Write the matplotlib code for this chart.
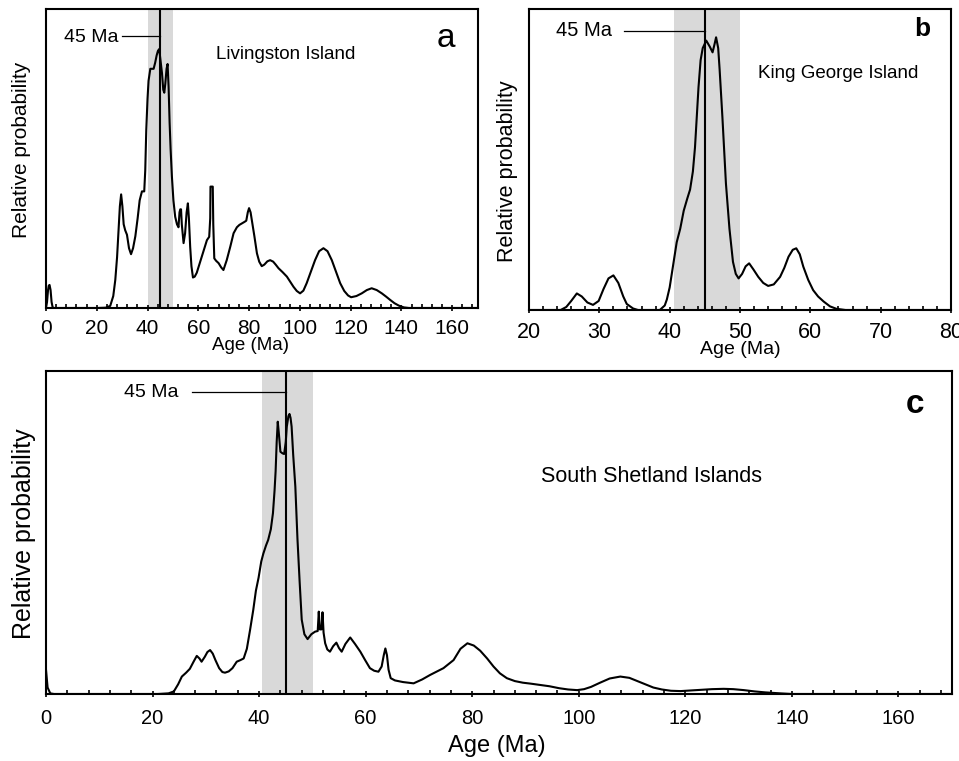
import matplotlib
matplotlib.use('Agg')
import numpy as np
import matplotlib.pyplot as plt
from matplotlib.ticker import MultipleLocator

plt.rcParams['font.family'] = ['Liberation Sans', 'DejaVu Sans']

# ---- data (age in Ma, relative probability 0..1 of panel height) ----
age_a = [0.0, 0.4, 0.8, 1.1, 1.4, 1.8, 2.2, 2.6, 3.0, 20.0, 23.5, 25.3, 26.5, 27.3, 28.0,
         28.6, 29.1, 29.6, 30.1, 30.6, 31.2, 31.9, 32.7, 33.5, 34.3, 35.2, 36.1, 36.9, 37.8,
         38.7, 39.1, 39.5, 40.0, 40.4, 41.1, 41.8, 42.4, 43.0, 43.6, 44.1, 44.6, 45.1, 45.7,
         46.2, 46.6, 47.0, 47.5, 47.9, 48.3, 48.7, 49.1, 49.6, 50.2, 50.9, 51.6, 52.2, 52.6,
         52.9, 53.2, 53.5, 54.2, 54.8, 55.4, 55.9, 56.3, 56.8, 57.3, 57.9, 58.6, 59.4, 60.4,
         61.4, 62.4, 63.4, 64.3, 64.7, 64.8, 65.7, 65.9, 66.3, 67.0, 68.0, 69.0, 69.9, 71.2,
         72.6, 73.9, 75.2, 76.2, 77.2, 78.2, 78.9, 79.5, 80.0, 80.6, 81.1, 82.1, 83.1, 84.0,
         85.0, 86.0, 87.2, 88.3, 89.5, 90.5, 91.6, 93.2, 94.9, 96.2, 97.5, 98.8, 100.1, 101.4,
         102.7, 104.3, 106.0, 107.6, 109.3, 110.9, 112.6, 114.3, 115.9, 117.5, 119.0, 120.2,
         122.3, 124.4, 126.4, 128.3, 130.3, 132.3, 134.0, 135.6, 137.3, 139.0, 141.0, 143.0,
         170.0]
prob_a = [0.0, 0.02, 0.06, 0.075, 0.077, 0.06, 0.02, 0.003, 0.0, 0.0, 0.001, 0.007, 0.04,
          0.094, 0.17, 0.26, 0.34, 0.38, 0.34, 0.28, 0.26, 0.245, 0.20, 0.18, 0.20, 0.24, 0.30,
          0.36, 0.39, 0.39, 0.46, 0.595, 0.70, 0.76, 0.80, 0.80, 0.80, 0.82, 0.845, 0.86, 0.866,
          0.83, 0.785, 0.73, 0.72, 0.75, 0.80, 0.816, 0.74, 0.62, 0.53, 0.44, 0.36, 0.305, 0.28,
          0.27, 0.32, 0.33, 0.33, 0.28, 0.217, 0.25, 0.32, 0.35, 0.30, 0.205, 0.14, 0.102,
          0.105, 0.118, 0.145, 0.172, 0.20, 0.227, 0.238, 0.30, 0.406, 0.406, 0.28, 0.166,
          0.158, 0.15, 0.136, 0.127, 0.16, 0.205, 0.25, 0.27, 0.278, 0.283, 0.288, 0.292, 0.32,
          0.334, 0.32, 0.294, 0.24, 0.183, 0.155, 0.14, 0.145, 0.156, 0.16, 0.155, 0.145,
          0.133, 0.12, 0.105, 0.088, 0.071, 0.057, 0.049, 0.058, 0.083, 0.12, 0.16, 0.19, 0.20,
          0.19, 0.16, 0.12, 0.083, 0.057, 0.042, 0.036, 0.04, 0.049, 0.06, 0.066, 0.06, 0.049,
          0.038, 0.027, 0.016, 0.008, 0.002, 0.0, 0.0]

age_b = [20.0, 24.5, 25.3, 26.0, 26.8, 27.5, 28.3, 29.1, 29.9, 30.6, 31.3, 32.0, 32.7, 33.4,
         33.9, 34.8, 35.5, 38.6, 39.3, 39.6, 40.0, 40.3, 40.7, 41.0, 41.5, 42.0, 42.5, 42.9,
         43.3, 43.6, 43.9, 44.1, 44.4, 44.7, 45.2, 45.7, 46.1, 46.4, 46.6, 46.9, 47.1, 47.5,
         48.0, 48.5, 49.0, 49.4, 49.8, 50.3, 50.8, 51.3, 51.9, 52.6, 53.3, 54.0, 54.8, 55.7,
         56.3, 56.9, 57.5, 58.0, 58.5, 59.0, 59.7, 60.4, 61.1, 61.9, 62.8, 63.7, 65.0, 80.0]
prob_b = [0.0, 0.0, 0.01, 0.03, 0.055, 0.045, 0.025, 0.017, 0.03, 0.07, 0.105, 0.115, 0.09,
          0.045, 0.02, 0.005, 0.0, 0.0, 0.015, 0.035, 0.075, 0.12, 0.18, 0.225, 0.27, 0.33,
          0.37, 0.40, 0.46, 0.54, 0.66, 0.74, 0.83, 0.87, 0.895, 0.875, 0.856, 0.885, 0.906,
          0.87, 0.80, 0.64, 0.42, 0.27, 0.16, 0.12, 0.105, 0.12, 0.145, 0.155, 0.135, 0.11,
          0.09, 0.08, 0.085, 0.11, 0.14, 0.177, 0.20, 0.205, 0.185, 0.144, 0.10, 0.066, 0.045,
          0.028, 0.012, 0.004, 0.0, 0.0]

age_c = [0.0, 0.3, 0.8, 1.5, 21.0, 23.0, 24.0, 24.8, 25.5, 26.3, 27.0, 27.7, 28.3, 28.8, 29.2,
         29.8, 30.3, 30.8, 31.3, 31.8, 32.5, 33.1, 33.6, 34.3, 35.0, 35.8, 36.5, 37.1, 37.7,
         38.3, 38.9, 39.4, 39.9, 40.4, 40.8, 41.3, 41.7, 42.2, 42.6, 42.9, 43.1, 43.3, 43.5,
         43.7, 44.0, 44.4, 44.7, 45.0, 45.2, 45.5, 45.7, 45.9, 46.1, 46.4, 46.8, 47.2, 47.6,
         48.0, 48.5, 49.1, 49.8, 50.5, 51.0, 51.2, 51.4, 51.7, 51.9, 52.1, 52.4, 52.8, 53.3,
         53.9, 54.5, 55.0, 55.5, 56.2, 57.1, 58.0, 59.0, 59.9, 60.8, 61.6, 62.4, 63.0, 63.4,
         63.7, 64.0, 64.3, 64.7, 65.5, 67.0, 69.0, 70.6, 72.1, 73.4, 74.6, 75.6, 76.5, 77.8,
         79.1, 80.3, 81.5, 82.8, 84.0, 85.2, 86.5, 88.0, 89.5, 91.0, 92.8, 94.5, 96.3, 98.0,
         99.7, 101.0, 102.3, 104.0, 105.8, 107.8, 109.5, 111.0, 112.5, 114.0, 115.6, 117.3,
         119.1, 121.0, 123.0, 125.0, 127.2, 129.0, 131.0, 133.0, 135.0, 137.8, 140.0, 170.0]
prob_c = [0.075, 0.02, 0.002, 0.0, 0.0, 0.002, 0.008, 0.03, 0.054, 0.066, 0.078, 0.10, 0.118,
          0.11, 0.10, 0.115, 0.13, 0.136, 0.125, 0.105, 0.08, 0.068, 0.066, 0.07, 0.08, 0.10,
          0.105, 0.11, 0.14, 0.198, 0.26, 0.32, 0.36, 0.41, 0.435, 0.46, 0.477, 0.51, 0.56,
          0.63, 0.69, 0.78, 0.843, 0.808, 0.75, 0.745, 0.743, 0.78, 0.828, 0.86, 0.867, 0.855,
          0.828, 0.74, 0.642, 0.48, 0.35, 0.23, 0.185, 0.17, 0.185, 0.193, 0.195, 0.255, 0.2,
          0.2, 0.253, 0.19, 0.157, 0.138, 0.131, 0.148, 0.159, 0.142, 0.131, 0.155, 0.175,
          0.155, 0.131, 0.105, 0.08, 0.072, 0.069, 0.085, 0.12, 0.141, 0.12, 0.075, 0.049,
          0.042, 0.037, 0.033, 0.045, 0.059, 0.07, 0.08, 0.093, 0.105, 0.14, 0.157, 0.15,
          0.134, 0.11, 0.085, 0.064, 0.049, 0.04, 0.035, 0.032, 0.028, 0.024, 0.018, 0.014,
          0.012, 0.015, 0.022, 0.035, 0.048, 0.054, 0.05, 0.04, 0.03, 0.02, 0.014, 0.01, 0.009,
          0.011, 0.013, 0.015, 0.016, 0.015, 0.012, 0.008, 0.005, 0.002, 0.0, 0.0]

ticks_ac = [0, 20, 40, 60, 80, 100, 120, 140, 160]
ticks_b = [20, 30, 40, 50, 60, 70, 80]

W, H = 959.0, 761.0


def px_rect(left, top, right, bottom):
    return [left / W, 1 - bottom / H, (right - left) / W, (bottom - top) / H]


def panel(rect, ages, probs, xlim, ticks, minor, band, tick_fs, pad):
    ax = fig.add_axes(rect)
    ax.axvspan(band[0], band[1], color='#d9d9d9', lw=0, zorder=0)
    ax.axvline(45, color='black', lw=1.5, zorder=2)
    ax.plot(ages, probs, color='black', lw=1.5, zorder=3)
    ax.set_xlim(xlim)
    ax.set_ylim(0, 1)
    ax.set_yticks([])
    ax.set_xticks(ticks)
    ax.xaxis.set_minor_locator(MultipleLocator(minor))
    ax.tick_params(axis='x', which='major', direction='inout', length=5, width=1.2,
                   labelsize=tick_fs, pad=pad)
    ax.tick_params(axis='x', which='minor', direction='in', length=3, width=1.2)
    for s in ax.spines.values():
        s.set_linewidth(1.5)
    return ax


fig = plt.figure(figsize=(9.59, 7.61), dpi=100)

# panel a
ax_a = panel(px_rect(46, 9, 477.5, 308), age_a, prob_a, (0, 170), ticks_ac, 4,
             (40.2, 50.2), 15, 5.5)
ax_a.plot([30.0, 45], [0.911, 0.911], color='black', lw=0.9)
ax_a.text(28.5, 0.906, '45 Ma', ha='right', va='center', fontsize=14)
ax_a.text(67.1, 0.848, 'Livingston Island', ha='left', va='center', fontsize=13.5)
ax_a.text(157.6, 0.90, 'a', ha='center', va='center', fontsize=24)

# panel b
ax_b = panel(px_rect(529, 9, 951, 310), age_b, prob_b, (20, 80), ticks_b, 2,
             (40.6, 50.0), 15.5, 6.5)
ax_b.plot([33.5, 45], [0.928, 0.928], color='black', lw=0.9)
ax_b.text(31.8, 0.929, '45 Ma', ha='right', va='center', fontsize=14.5)
ax_b.text(52.6, 0.786, 'King George Island', ha='left', va='center', fontsize=13.5)
ax_b.text(75.96, 0.932, 'b', ha='center', va='center', fontsize=19, fontweight='bold')

# panel c
ax_c = panel(px_rect(46, 371, 951.7, 694), age_c, prob_c, (0, 170), ticks_ac, 4,
             (40.6, 50.2), 14.5, 8.5)
ax_c.plot([27.4, 45], [0.934, 0.934], color='black', lw=0.9)
ax_c.text(24.8, 0.932, '45 Ma', ha='right', va='center', fontsize=14)
ax_c.text(92.9, 0.673, 'South Shetland Islands', ha='left', va='center', fontsize=15.5)
ax_c.text(163.2, 0.896, 'c', ha='center', va='center', fontsize=24, fontweight='bold')

# axis titles
fig.text(22 / W, 1 - 150 / H, 'Relative probability', rotation=90, ha='center',
         va='center', fontsize=15)
fig.text(250 / W, 1 - 346 / H, 'Age (Ma)', ha='center', va='center', fontsize=13.5)
fig.text(507.5 / W, 1 - 171 / H, 'Relative probability', rotation=90, ha='center',
         va='center', fontsize=15.5)
fig.text(740.5 / W, 1 - 350 / H, 'Age (Ma)', ha='center', va='center', fontsize=14)
fig.text(24 / W, 1 - 533.5 / H, 'Relative probability', rotation=90, ha='center',
         va='center', fontsize=18)
fig.text(497 / W, 1 - 746 / H, 'Age (Ma)', ha='center', va='center', fontsize=17)

fig.savefig('out.png', dpi=100)
